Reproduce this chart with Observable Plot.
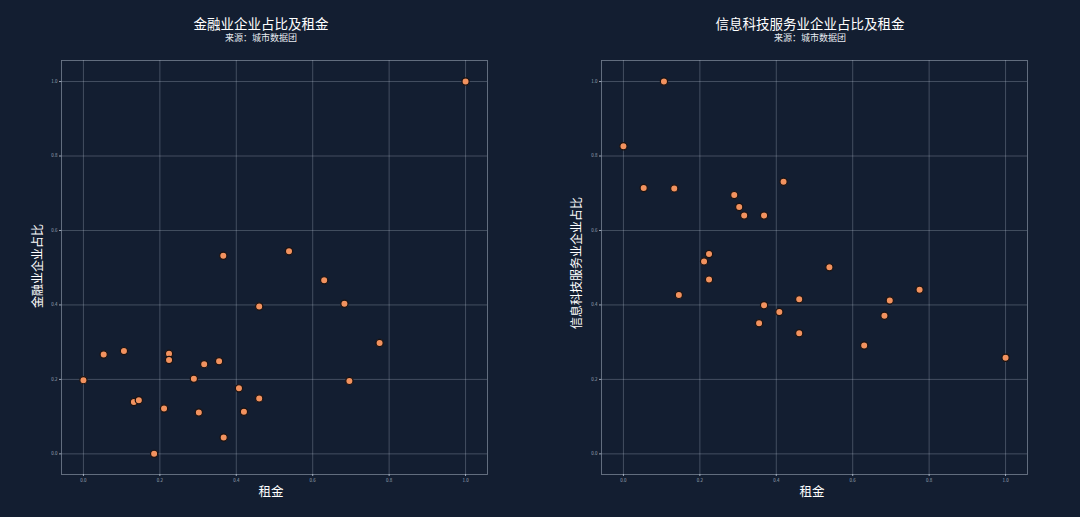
<!DOCTYPE html>
<html><head><meta charset="utf-8">
<script src="https://cdn.jsdelivr.net/npm/d3@7"></script>
<script src="https://cdn.jsdelivr.net/npm/@observablehq/plot@0.6"></script>
<style>
body{margin:0;background:#131e31;}
#wrap{position:relative;width:1080px;height:517px;overflow:hidden;background:#131e31;}
#wrap svg{position:absolute;top:0;}
</style></head>
<body><div id="wrap"></div>
<script>
// 金融业 panel
const rentFin  = [0.000,0.053,0.106,0.132,0.145,0.185,0.211,0.224,0.224,0.289,0.302,0.316,0.355,0.367,0.366,0.407,0.420,0.460,0.460,0.538,0.630,0.683,0.696,0.775,1.000];
const shareFin = [0.198,0.267,0.276,0.139,0.144,0.000,0.122,0.269,0.252,0.202,0.111,0.241,0.249,0.044,0.532,0.176,0.113,0.396,0.149,0.544,0.466,0.403,0.196,0.298,1.000];
// 信息科技服务业 panel
const rentIT  = [0.000,0.053,0.106,0.133,0.145,0.211,0.224,0.224,0.290,0.303,0.316,0.355,0.368,0.368,0.408,0.419,0.460,0.460,0.539,0.630,0.683,0.697,0.775,1.000];
const shareIT = [0.826,0.714,1.000,0.713,0.427,0.517,0.537,0.468,0.695,0.663,0.640,0.351,0.640,0.399,0.381,0.731,0.415,0.324,0.501,0.291,0.371,0.412,0.441,0.258];

const tickValues = [0, 0.2, 0.4, 0.6, 0.8, 1.0];
const tickLabels = ["0.0","0.2","0.4","0.6","0.8","1.0"];

const titles = ["金融业企业占比及租金", "信息科技服务业企业占比及租金"];
const subtitle = "来源：城市数据团";
const xLabel = "租金";
const yLabels = ["金融业企业占比", "信息科技服务业企业占比"];

const FONT = "'Noto Sans CJK SC', 'Noto Sans', sans-serif";
const GRID = "#c3cedd";

function panel(rent, share, idx, left, titleX, xLabX, yLabX, yLabY) {
  const data = rent.map((r, i) => ({rent: r, share: share[i]}));
  const fmt = d => tickLabels[tickValues.indexOf(d)] ?? d.toFixed(1);
  const svg = Plot.plot({
    width: 540, height: 517,
    marginLeft: 61, marginRight: 53, marginTop: 60, marginBottom: 43,
    style: {background: "transparent", color: "#9aa6b8", fontSize: "4.5px", fontFamily: FONT, overflow: "visible"},
    x: {domain: [-0.0574, 1.0574], ticks: tickValues, tickFormat: fmt, label: null, tickSize: 2, tickPadding: 2},
    y: {domain: [-0.0554, 1.0565], ticks: tickValues, tickFormat: fmt, label: null, tickSize: 2, tickPadding: 2},
    marks: [
      Plot.gridX(tickValues, {stroke: GRID, strokeOpacity: 0.35, strokeWidth: 0.8}),
      Plot.gridY(tickValues, {stroke: GRID, strokeOpacity: 0.35, strokeWidth: 0.8}),
      Plot.frame({stroke: GRID, strokeOpacity: 0.5, strokeWidth: 0.9}),
      Plot.dot(data, {x: "rent", y: "share", r: 3.6, fill: "#f2925f", stroke: "#1b1210", strokeWidth: 1.2})
    ]
  });
  svg.style.left = left + "px";
  const s = d3.select(svg);
  s.append("text").attr("x", titleX).attr("y", 29).attr("text-anchor", "middle")
    .attr("fill", "#ffffff").style("font-size", "13.5px").style("font-family", FONT).text(titles[idx]);
  s.append("text").attr("x", titleX).attr("y", 41).attr("text-anchor", "middle")
    .attr("fill", "#e8ecf2").style("font-size", "9px").style("font-family", FONT).text(subtitle);
  s.append("text").attr("x", xLabX).attr("y", 496).attr("text-anchor", "middle")
    .attr("fill", "#ffffff").style("font-size", "12.5px").style("font-family", FONT).text(xLabel);
  s.append("text").attr("transform", `translate(${yLabX},${yLabY}) rotate(-90)`).attr("text-anchor", "middle")
    .attr("fill", "#ffffff").style("font-size", "12px").style("font-family", FONT).text(yLabels[idx]);
  document.getElementById("wrap").appendChild(svg);
}

panel(rentFin, shareFin, 0, 0, 261, 271, 42, 266);
panel(rentIT, shareIT, 1, 540, 270, 272, 41, 263);
</script>
</body></html>
